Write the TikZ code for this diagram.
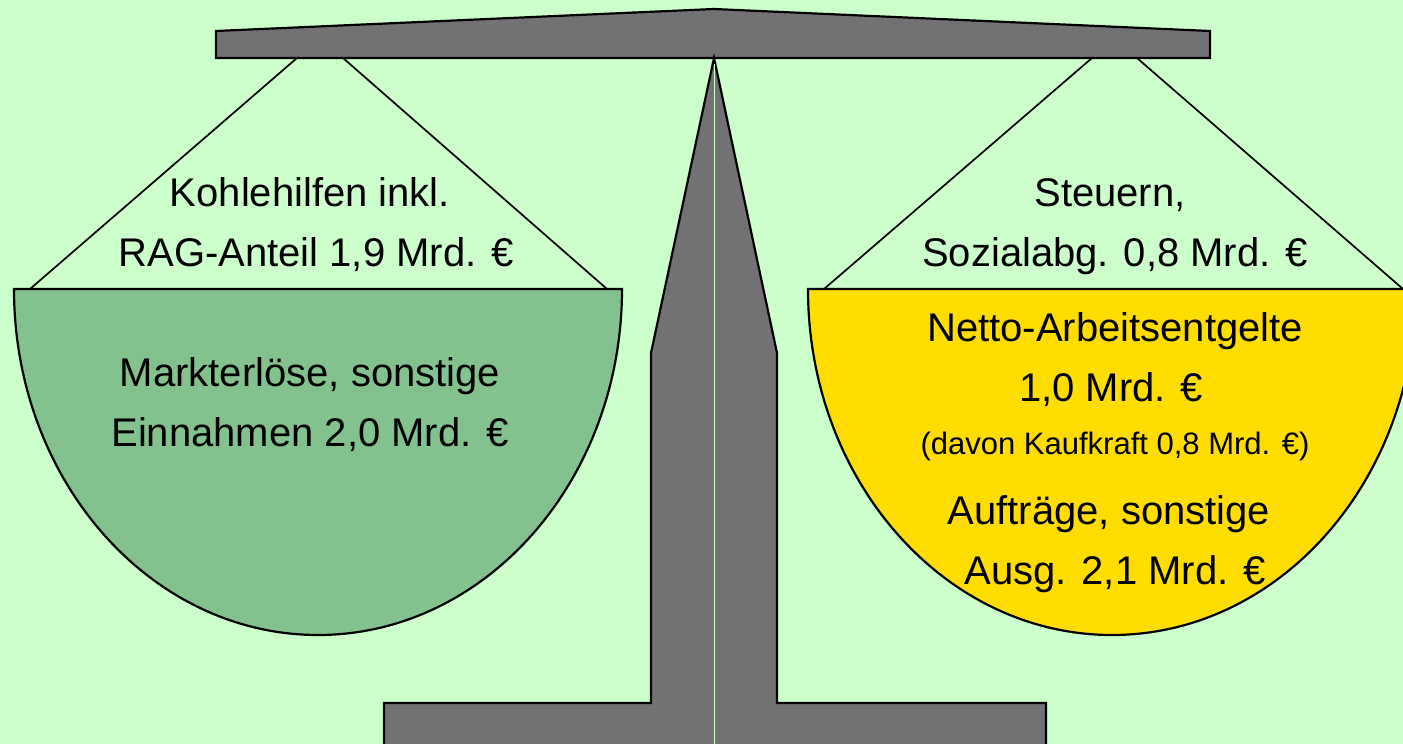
\documentclass[tikz,border=0pt]{standalone}
\usepackage{fontspec}
\setmainfont{Liberation Sans}
\definecolor{bgc}{RGB}{204,255,204}
\definecolor{steel}{RGB}{114,114,116}
\definecolor{pangreen}{RGB}{131,194,142}
\definecolor{panyellow}{RGB}{255,221,0}
\tikzset{
  outline/.style={draw=black, line width=2.2pt, line join=miter},
  rope/.style={draw=black, line width=1.7pt},
  big/.style={font=\fontsize{40}{48}\selectfont, anchor=base, inner sep=0pt},
  small/.style={font=\fontsize{31}{37}\selectfont, anchor=base, inner sep=0pt}
}
\begin{document}
\begin{tikzpicture}[x=1pt,y=1pt]
\useasboundingbox (0,0) rectangle (1403,-744);
\fill[bgc] (0,0) rectangle (1403,-744);
\begin{scope}
\clip (0,0) rectangle (1403,-744);
% rope anchors
\coordinate (la1) at (297,-58);
\coordinate (la2) at (343,-58);
\coordinate (lb1) at (30,-289);
\coordinate (lb2) at (607,-289);
\coordinate (ra1) at (1092,-58);
\coordinate (ra2) at (1137,-58);
\coordinate (rb1) at (824,-289);
\coordinate (rb2) at (1403,-289);
\draw[rope] (la1) -- (lb1);
\draw[rope] (la2) -- (lb2);
\draw[rope] (ra1) -- (rb1);
\draw[rope] (ra2) -- (rb2);
% pans
\draw[outline, fill=pangreen] (14,-289) -- (622,-289) arc[start angle=0, end angle=-180, x radius=304, y radius=346] -- cycle;
\draw[outline, fill=panyellow] (808,-289) -- (1416,-289) arc[start angle=0, end angle=-180, x radius=304, y radius=346] -- cycle;
% beam
\draw[outline, fill=steel] (216,-58) -- (216,-31) -- (714,-9) -- (1210,-31) -- (1210,-58) -- cycle;
% pillar and base
\draw[outline, fill=steel] (714,-58) -- (777,-353) -- (777,-703) -- (1046,-703) -- (1046,-760) -- (384,-760) -- (384,-703) -- (651,-703) -- (651,-353) -- cycle;
\draw[bgc, line width=0.6pt] (714,-64) -- (714,-744);
\end{scope}
% labels left
\node[big] (l1) at (310,-206) {Kohlehilfen inkl.};
\node[big] (l2) at (316,-266) {RAG-Anteil 1,9 Mrd. €};
\node[big] (l3) at (310,-386) {Markterlöse, sonstige};
\node[big] (l4) at (310,-446) {Einnahmen 2,0 Mrd. €};
% labels right
\node[big] (r1) at (1110,-206) {Steuern,};
\node[big] (r2) at (1115,-266) {Sozialabg. 0,8 Mrd. €};
\node[big] (r3) at (1115,-341) {Netto-Arbeitsentgelte};
\node[big] (r4) at (1111,-401) {1,0 Mrd. €};
\node[small] (r5) at (1115,-454) {(davon Kaufkraft 0,8 Mrd. €)};
\node[big] (r6) at (1109,-524) {Aufträge, sonstige};
\node[big] (r7) at (1115,-584) {Ausg. 2,1 Mrd. €};
\end{tikzpicture}
\end{document}
